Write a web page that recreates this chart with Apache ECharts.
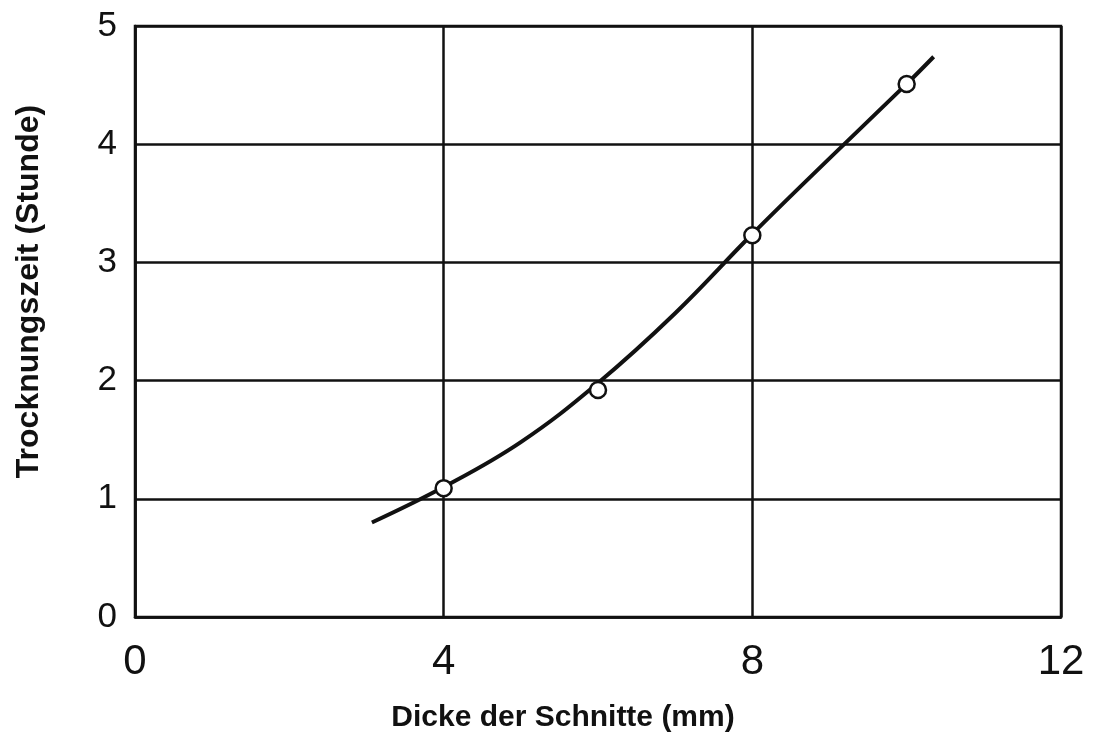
<!DOCTYPE html>
<html>
<head>
<meta charset="utf-8">
<script src="https://cdn.jsdelivr.net/npm/echarts@6/dist/echarts.min.js"></script>
<style>
  html, body { margin: 0; padding: 0; background: #fff; }
  #chart { width: 1100px; height: 745px; }
</style>
</head>
<body>
<div id="chart"></div>
<script>
// measured points
const pointX = [4, 6, 8, 10];
const pointY = [1.09, 1.92, 3.23, 4.51];

// fitted curve
const curveX = [3.07, 4, 5, 6, 7, 8, 9, 10, 10.35];
const curveY = [0.8, 1.1, 1.48, 1.98, 2.57, 3.24, 3.88, 4.51, 4.74];

const xTicks = { min: 0, max: 12, step: 4 };
const yTicks = { min: 0, max: 5, step: 1 };

const chart = echarts.init(document.getElementById('chart'));

const nameFont = {
  fontFamily: 'Liberation Sans',
  fontSize: 30,
  fontWeight: 'bold',
  color: '#111'
};
const gridLine = { show: true, lineStyle: { color: '#111', width: 2.5 } };
const axisLine = { show: true, onZero: false, lineStyle: { color: '#111', width: 2.5 } };

chart.setOption({
  backgroundColor: '#fff',
  animation: false,
  grid: {
    left: 135,
    right: 39,
    top: 26,
    bottom: 128,
    show: true,
    borderColor: '#111',
    borderWidth: 2.5
  },
  xAxis: {
    type: 'value',
    min: xTicks.min,
    max: xTicks.max,
    interval: xTicks.step,
    name: 'Dicke der Schnitte (mm)',
    nameLocation: 'middle',
    nameGap: 86,
    // title sits a bit left of the plot centre in the original
    nameTextStyle: Object.assign({}, nameFont, { padding: [0, 70, 0, 0] }),
    axisLine: axisLine,
    axisTick: { show: false },
    axisLabel: { margin: 24, fontFamily: 'Liberation Sans', fontSize: 42, color: '#111' },
    splitLine: gridLine
  },
  yAxis: {
    type: 'value',
    min: yTicks.min,
    max: yTicks.max,
    interval: yTicks.step,
    name: 'Trocknungszeit (Stunde)',
    nameLocation: 'middle',
    nameGap: 90,
    nameTextStyle: Object.assign({}, nameFont, { fontSize: 32, padding: [0, 0, 0, 60] }),
    axisLine: axisLine,
    axisTick: { show: false },
    axisLabel: { margin: 18, fontFamily: 'Liberation Sans', fontSize: 35, color: '#111' },
    splitLine: gridLine
  },
  series: [
    {
      type: 'line',
      data: curveX.map((x, i) => [x, curveY[i]]),
      smooth: 0.4,
      showSymbol: false,
      lineStyle: { color: '#111', width: 4 },
      z: 2
    },
    {
      type: 'scatter',
      data: pointX.map((x, i) => [x, pointY[i]]),
      symbol: 'circle',
      symbolSize: 16,
      itemStyle: { color: '#fff', borderColor: '#111', borderWidth: 2.5, opacity: 1 },
      z: 3
    }
  ]
});
</script>
</body>
</html>
